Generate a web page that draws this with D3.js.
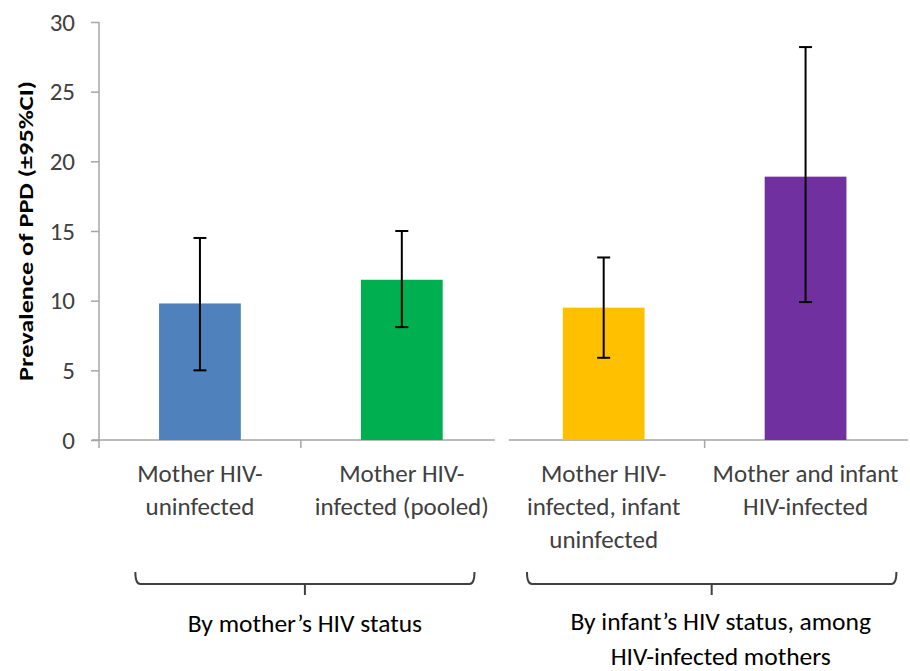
<!DOCTYPE html>
<html lang="en">
<head>
  <meta charset="UTF-8">
  <title>PPD prevalence</title>
  <style>
    body {
      margin: 0;
      background: #fff;
      font-family: Carlito, Calibri, Lato, sans-serif;
    }
    .axis--y path, .axis--y line, .baseline {
      stroke: #a6a6a6;
      stroke-width: 1.5;
      fill: none;
    }
    .axis--y text {
      font-family: Carlito, Calibri, Lato, sans-serif;
      font-size: 25px;
      fill: #404040;
    }
    .catLabel {
      font-size: 25px;
      fill: #404040;
      text-anchor: middle;
    }
    .yTitle {
      font-size: 21px;
      font-weight: bold;
      fill: #000;
      text-anchor: middle;
    }
    .err {
      stroke: #000;
      stroke-width: 2;
    }
    .brace {
      stroke: #404040;
      stroke-width: 2;
      fill: none;
    }
    .groupLabel {
      font-size: 25.5px;
      fill: #000;
      text-anchor: middle;
    }
  </style>
  <script src="https://d3js.org/d3.v7.min.js"></script>
</head>
<body>
  <div id="chart"></div>
  <script>
/* global d3 */

// data
var categories = [
  ["Mother HIV-", "uninfected"],
  ["Mother HIV-", "infected (pooled)"],
  ["Mother HIV-", "infected, infant", "uninfected"],
  ["Mother and infant", "HIV-infected"]
];
var values = [9.8, 11.5, 9.5, 18.9];
var ciLow = [5.0, 8.1, 5.9, 9.9];
var ciHigh = [14.5, 15.0, 13.1, 28.2];
var colors = ["#4f81bd", "#00b050", "#ffc000", "#7030a0"];
var yTicks = [0, 5, 10, 15, 20, 25, 30];
var groups = [
  {first: 0, last: 1, label: ["By mother\u2019s HIV status"]},
  {first: 2, last: 3, label: ["By infant\u2019s HIV status, among", "HIV-infected mothers"]}
];

var width = 910, height = 671;

var svg = d3.select("#chart")
  .append("svg")
  .attr("width", width)
  .attr("height", height);

var y = d3.scaleLinear().domain([0, 30]).range([440, 22]);
var x = d3.scaleBand().domain(d3.range(categories.length)).range([99, 906.5]);
var bw = x.bandwidth();
var barW = bw * 0.405;

// y axis
svg.append("g")
  .attr("class", "axis--y")
  .attr("transform", "translate(99,0)")
  .call(d3.axisLeft(y).tickValues(yTicks).tickSizeInner(8).tickSizeOuter(0).tickPadding(16))
  .call(function (g) { g.select(".domain").attr("d", "M0," + y(30) + "V" + y(0)); });

// title is stretched along its length like in the original
svg.append("text")
  .attr("class", "yTitle")
  .attr("transform", "translate(33," + ((y(0) + y(30)) / 2) + ") rotate(-90) scale(1.25,1)")
  .text("Prevalence of PPD (\u00b195%CI)");

// baselines, one per panel, with a small gap between
svg.append("line")
  .attr("class", "baseline")
  .attr("x1", x(0) - 7).attr("x2", x(1) + bw - 8)
  .attr("y1", y(0)).attr("y2", y(0));
svg.append("line")
  .attr("class", "baseline")
  .attr("x1", x(2) + 6).attr("x2", x(3) + bw + 1.5)
  .attr("y1", y(0)).attr("y2", y(0));

// category ticks
svg.selectAll(".catTick")
  .data([0, 1, 3])
  .enter().append("line")
  .attr("class", "baseline")
  .attr("x1", function (d) { return x(d); })
  .attr("x2", function (d) { return x(d); })
  .attr("y1", y(0)).attr("y2", y(0) + 8);

// bars
svg.selectAll(".bar")
  .data(values)
  .enter().append("rect")
  .attr("class", "bar")
  .attr("x", function (d, i) { return x(i) + (bw - barW) / 2; })
  .attr("width", barW)
  .attr("y", function (d) { return y(d); })
  .attr("height", function (d) { return y(0) - y(d); })
  .style("fill", function (d, i) { return colors[i]; });

// error bars
var cap = 6.5;
var err = svg.selectAll(".errG")
  .data(values)
  .enter().append("g");
err.append("line")
  .attr("class", "err")
  .attr("x1", function (d, i) { return x(i) + bw / 2; })
  .attr("x2", function (d, i) { return x(i) + bw / 2; })
  .attr("y1", function (d, i) { return y(ciLow[i]); })
  .attr("y2", function (d, i) { return y(ciHigh[i]); });
[ciLow, ciHigh].forEach(function (arr) {
  err.append("line")
    .attr("class", "err")
    .attr("x1", function (d, i) { return x(i) + bw / 2 - cap; })
    .attr("x2", function (d, i) { return x(i) + bw / 2 + cap; })
    .attr("y1", function (d, i) { return y(arr[i]); })
    .attr("y2", function (d, i) { return y(arr[i]); });
});

// category labels
svg.selectAll(".catLabel")
  .data(categories)
  .enter().append("text")
  .attr("class", "catLabel")
  .attr("x", function (d, i) { return x(i) + bw / 2; })
  .attr("y", 482)
  .selectAll("tspan")
  .data(function (d) { return d; })
  .enter().append("tspan")
  .attr("x", function () { return d3.select(this.parentNode).attr("x"); })
  .attr("dy", function (d, i) { return i === 0 ? 0 : 33; })
  .text(function (d) { return d; });

// group braces and labels
var braceInset = [[0.18, 0.86], [0.12, 0.95]];
groups.forEach(function (g, gi) {
  var x0 = x(g.first) + bw * braceInset[gi][0];
  var x1 = x(g.last) + bw * braceInset[gi][1];
  var cx = (x0 + x1) / 2;
  var top = 572, mid = 584, r = 5;
  svg.append("path")
    .attr("class", "brace")
    .attr("d", "M" + x0 + "," + top +
      "Q" + x0 + "," + mid + " " + (x0 + r) + "," + mid +
      "L" + (x1 - r) + "," + mid +
      "Q" + x1 + "," + mid + " " + x1 + "," + top +
      "M" + cx + "," + mid + "V" + (mid + 11));
  var lx = cx + (gi === 1 ? 9 : 0);
  var t = svg.append("text")
    .attr("class", "groupLabel")
    .attr("x", lx)
    .attr("y", gi === 0 ? 632 : 630);
  t.selectAll("tspan")
    .data(g.label)
    .enter().append("tspan")
    .attr("x", lx)
    .attr("dy", function (d, i) { return i === 0 ? 0 : 35; })
    .text(function (d) { return d; });
});
  </script>
</body>
</html>
